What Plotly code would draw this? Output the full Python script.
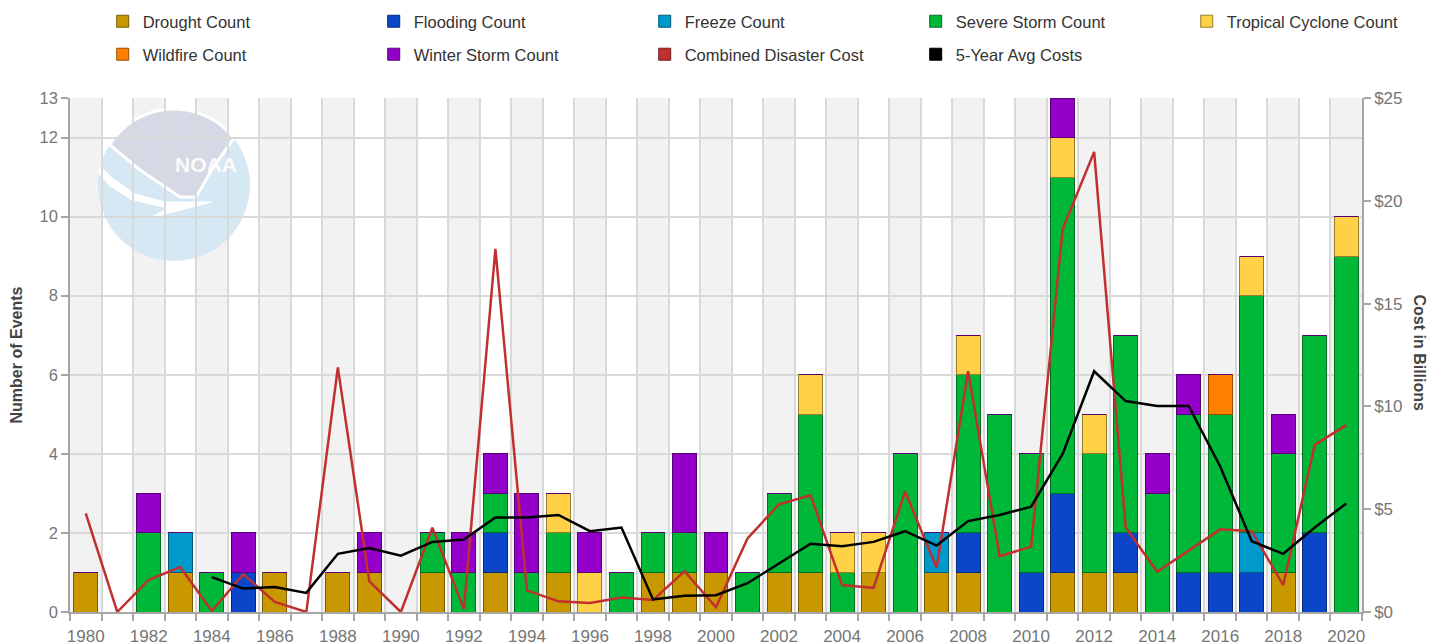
import math
import plotly.graph_objects as go

# ---------------- data ----------------
years = list(range(1980, 2021))

drought = [1, 0, 0, 1, 0, 0, 1, 0, 1, 1,
           0, 1, 0, 1, 0, 1, 0, 0, 1, 1,
           1, 0, 1, 1, 0, 1, 0, 1, 1, 0,
           0, 1, 1, 1, 0, 0, 0, 0, 1, 0,
           0]
flooding = [0, 0, 0, 0, 0, 1, 0, 0, 0, 0,
            0, 0, 0, 1, 0, 0, 0, 0, 0, 0,
            0, 0, 0, 0, 0, 0, 0, 0, 1, 0,
            1, 2, 0, 1, 0, 1, 1, 1, 0, 2,
            0]
freeze = [0, 0, 0, 1, 0, 0, 0, 0, 0, 0,
          0, 0, 0, 0, 0, 0, 0, 0, 0, 0,
          0, 0, 0, 0, 0, 0, 0, 1, 0, 0,
          0, 0, 0, 0, 0, 0, 0, 1, 0, 0,
          0]
severe_storm = [0, 0, 2, 0, 1, 0, 0, 0, 0, 0,
                0, 1, 1, 1, 1, 1, 0, 1, 1, 1,
                0, 1, 2, 4, 1, 0, 4, 0, 4, 5,
                3, 8, 3, 5, 3, 4, 4, 6, 3, 5,
                9]
tropical_cyclone = [0, 0, 0, 0, 0, 0, 0, 0, 0, 0,
                    0, 0, 0, 0, 0, 1, 1, 0, 0, 0,
                    0, 0, 0, 1, 1, 1, 0, 0, 1, 0,
                    0, 1, 1, 0, 0, 0, 0, 1, 0, 0,
                    1]
wildfire = [0, 0, 0, 0, 0, 0, 0, 0, 0, 0,
            0, 0, 0, 0, 0, 0, 0, 0, 0, 0,
            0, 0, 0, 0, 0, 0, 0, 0, 0, 0,
            0, 0, 0, 0, 0, 0, 1, 0, 0, 0,
            0]
winter_storm = [0, 0, 1, 0, 0, 1, 0, 0, 0, 1,
                0, 0, 1, 1, 2, 0, 1, 0, 0, 2,
                1, 0, 0, 0, 0, 0, 0, 0, 0, 0,
                0, 1, 0, 0, 1, 1, 0, 0, 1, 0,
                0]

cost_billions = [4.8, 0.0, 1.57, 2.19, 0.05, 1.84, 0.49, 0.0, 11.9, 1.49,
                 0.0, 4.1, 0.14, 17.66, 1.05, 0.52, 0.44, 0.70, 0.58, 1.98,
                 0.23, 3.58, 5.24, 5.68, 1.31, 1.17, 5.86, 2.15, 11.71, 2.71,
                 3.18, 18.62, 22.38, 4.11, 1.96, 2.97, 4.02, 3.93, 1.31, 8.13,
                 9.09]
avg5_billions = [None, None, None, None, 1.70, 1.14, 1.22, 0.93, 2.83, 3.11,
                 2.74, 3.41, 3.53, 4.60, 4.60, 4.72, 3.93, 4.11, 0.61, 0.79,
                 0.82, 1.40, 2.36, 3.32, 3.20, 3.41, 3.93, 3.23, 4.42, 4.72,
                 5.12, 7.69, 11.71, 10.26, 10.02, 10.02, 7.08, 3.44, 2.83, 4.11,
                 5.28]

count_ticks = [0, 2, 4, 6, 8, 10, 12, 13]
cost_ticks = [0, 5, 10, 15, 20, 25]
cost_tick_text = ["$0", "$5", "$10", "$15", "$20", "$25"]
label_years = years[::2]

# ---------------- geometry helpers ----------------
# The page adds an 8px body margin, so the figure is laid out in page pixels
# shifted by OFF.
OFF = 8
W, H = 1448, 643
PAGE_L, PAGE_R, PAGE_T, PAGE_B = 70, 1362, 98, 612   # plot area in page pixels
ML, MT = PAGE_L - OFF, PAGE_T - OFF
MR, MB = W - (PAGE_R - OFF), H - (PAGE_B - OFF)
PW, PH = PAGE_R - PAGE_L, PAGE_B - PAGE_T


def px(x):
    """page pixel x -> paper fraction"""
    return (x - PAGE_L) / PW


def py(y):
    """page pixel y -> paper fraction"""
    return (PAGE_B - y) / PH


def darker(hexcol, f=0.6):
    r, g, b = int(hexcol[1:3], 16), int(hexcol[3:5], 16), int(hexcol[5:7], 16)
    return "rgb(%d,%d,%d)" % (r * f, g * f, b * f)


FONT = "Liberation Sans, Arial, sans-serif"
TICK_COLOR = "#767676"
GRID = "#d9d9d9"
AXIS_LINE = "#a6a6a6"

bar_series = [
    ("Drought Count", drought, "#c99700", "legend"),
    ("Flooding Count", flooding, "#0b46c9", "legend"),
    ("Freeze Count", freeze, "#0099cc", "legend"),
    ("Severe Storm Count", severe_storm, "#00b837", "legend"),
    ("Tropical Cyclone Count", tropical_cyclone, "#ffd147", "legend"),
    ("Wildfire Count", wildfire, "#ff8000", "legend2"),
    ("Winter Storm Count", winter_storm, "#9400c9", "legend2"),
]
COST_COLOR = "#c0302f"
AVG_COLOR = "#000000"

fig = go.Figure()
for name, vals, color, lg in bar_series:
    fig.add_trace(go.Bar(
        x=years, y=vals, name=name, width=0.76,
        marker=dict(color=color, line=dict(color=darker(color), width=1)),
        legend=lg,
    ))

fig.add_trace(go.Scatter(
    x=years, y=cost_billions, yaxis="y2", mode="lines", name="Combined Disaster Cost",
    line=dict(color=COST_COLOR, width=2.5), showlegend=False,
))
fig.add_trace(go.Scatter(
    x=years, y=avg5_billions, yaxis="y2", mode="lines", name="5-Year Avg Costs",
    line=dict(color=AVG_COLOR, width=2.5), showlegend=False,
))
# square legend swatches for the two line series, as in the original
for name, color in [("Combined Disaster Cost", COST_COLOR), ("5-Year Avg Costs", AVG_COLOR)]:
    fig.add_trace(go.Bar(
        x=[None], y=[None], name=name,
        marker=dict(color=color, line=dict(color=darker(color), width=1)),
        legend="legend2",
    ))

# ---------------- background bands & watermark ----------------
shapes = []
for yr in years:
    if yr % 2 == 0:
        shapes.append(dict(type="rect", xref="x", yref="paper", x0=yr - 0.5, x1=yr + 0.5,
                           y0=0, y1=1, fillcolor="#f2f2f2", line=dict(width=0), layer="below"))


def ppath(points):
    return "M " + " L ".join("%.5f,%.5f" % (px(x), py(y)) for x, y in points) + " Z"


cx, cy, r = 174, 185, 76
shapes.append(dict(type="circle", xref="paper", yref="paper",
                   x0=px(cx - r), x1=px(cx + r), y0=py(cy + r), y1=py(cy - r),
                   fillcolor="#d7e8f5", line=dict(width=0), layer="below"))
cap = []
for i in range(0, 23):
    a = math.radians(148 - i * 5)
    cap.append((cx + r * math.cos(a), cy - r * math.sin(a)))
cap += [(214, 166), (196, 197), (180, 197), (140, 170)]
shapes.append(dict(type="path", xref="paper", yref="paper", path=ppath(cap),
                   fillcolor="#d5d9e5", line=dict(color="#ffffff", width=3), layer="below"))
swoosh = [(100, 166), (112, 178), (135, 194), (165, 202), (212, 202),
          (150, 218), (168, 208), (132, 200), (110, 186), (99, 174)]
shapes.append(dict(type="path", xref="paper", yref="paper", path=ppath(swoosh),
                   fillcolor="#ffffff", line=dict(color="#ffffff", width=1), layer="below"))

annotations = [
    dict(text="<b>NOAA</b>", xref="paper", yref="paper", x=px(173), y=py(151),
         showarrow=False, font=dict(family=FONT, size=21, color="rgba(255,255,255,0.92)")),
    dict(text="<b>Cost in Billions</b>", xref="paper", yref="paper", x=px(1430), y=py(353),
         showarrow=False, textangle=90, font=dict(family=FONT, size=16, color="#444444")),
]

legend_common = dict(orientation="h", xref="paper", x=-0.001, xanchor="left", yanchor="top",
                     entrywidth=192, entrywidthmode="pixels", indentation=34,
                     traceorder="normal", bgcolor="rgba(0,0,0,0)",
                     font=dict(family=FONT, size=16.5, color="#333333"))

fig.update_layout(
    width=W, height=H,
    margin=dict(l=ML, r=MR, t=MT, b=MB, autoexpand=False),
    barmode="stack",
    plot_bgcolor="white", paper_bgcolor="white",
    font=dict(family=FONT, color="#333333"),
    legend=dict(legend_common, y=py(22 - 18)),
    legend2=dict(legend_common, y=py(55 - 18)),
    shapes=shapes,
    annotations=annotations,
    xaxis=dict(
        type="linear", range=[years[0] - 0.5, years[-1] + 0.5],
        tickmode="array", tickvals=label_years, ticktext=[str(v) for v in label_years],
        ticks="outside", ticklen=8, tickcolor="rgba(0,0,0,0)",
        showgrid=False, zeroline=False,
        showline=True, linecolor=AXIS_LINE, linewidth=1.5,
        tickfont=dict(family=FONT, size=17, color=TICK_COLOR),
        minor=dict(tickmode="array", tickvals=[v - 0.5 for v in years] + [years[-1] + 0.5],
                   ticks="outside", ticklen=7, tickcolor=AXIS_LINE, tickwidth=1.5,
                   showgrid=True, gridcolor=GRID, gridwidth=1.5),
    ),
    yaxis=dict(
        range=[0, 13], tickmode="array", tickvals=count_ticks,
        ticks="outside", ticklen=7, tickcolor=AXIS_LINE, tickwidth=1.5,
        showline=True, linecolor=AXIS_LINE, linewidth=1.5,
        showgrid=True, gridcolor=GRID, gridwidth=1.5, zeroline=False,
        tickfont=dict(family=FONT, size=16.5, color=TICK_COLOR),
        title=dict(text="<b>Number of Events</b>", standoff=14,
                   font=dict(family=FONT, size=16, color="#444444")),
    ),
    yaxis2=dict(
        overlaying="y", side="right", range=[0, 25], tickmode="array",
        tickvals=cost_ticks, ticktext=cost_tick_text,
        ticks="outside", ticklen=7, tickcolor=AXIS_LINE, tickwidth=1.5,
        showline=True, linecolor=AXIS_LINE, linewidth=1.5,
        showgrid=False, zeroline=False,
        tickfont=dict(family=FONT, size=17, color=TICK_COLOR),
    ),
)

fig.write_html("out.html")
